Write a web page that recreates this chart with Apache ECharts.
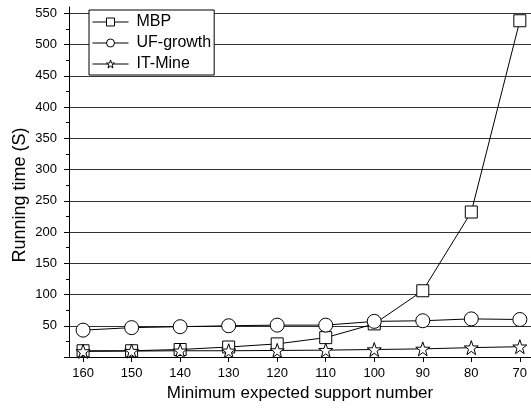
<!DOCTYPE html>
<html><head><meta charset="utf-8">
<script src="https://cdn.jsdelivr.net/npm/echarts@6/dist/echarts.min.js"></script>
<style>html,body{margin:0;padding:0;background:#fff}#c{width:531px;height:409px}</style>
</head><body><div id="c"></div>
<script>
const supports = [160, 150, 140, 130, 120, 110, 100, 90, 80, 70];
const mbp = [10, 10, 12, 16, 21, 31, 53, 106, 232, 538];
const ufGrowth = [43, 47, 48.5, 50, 51, 51, 57, 58, 61, 60];
const itMine = [9, 9.5, 10, 10, 10.5, 11, 12, 13, 15, 16.5];
const yLabels = [50, 100, 150, 200, 250, 300, 350, 400, 450, 500, 550];
const yTicks = [0, 50, 100, 150, 200, 250, 300, 350, 400, 450, 500, 550];
const yMinorTicks = [25, 75, 125, 175, 225, 275, 325, 375, 425, 475, 525];

const star = 'path://M12,0 L14.9,8.3 23.4,8.3 16.6,13.4 19.1,21.8 12,16.7 4.9,21.8 7.4,13.4 0.6,8.3 9.1,8.3 Z';
const font = 'Liberation Sans, Arial, sans-serif';
function pairs(v){ return supports.map((s,i)=>[s, v[i]]); }
function ser(name, data, symbol, size){
  return {name, type:'line', data:pairs(data), symbol, symbolSize:size,
    lineStyle:{color:'#000', width:1}, itemStyle:{color:'#fff', borderColor:'#000', borderWidth:1},
    emphasis:{disabled:true}, animation:false, z:3};
}
const chart = echarts.init(document.getElementById('c'), null, {renderer:'canvas'});
chart.setOption({
  animation:false,
  textStyle:{fontFamily:font},
  grid:{left:69, right:0, top:7, bottom:52, containLabel:false},
  legend:{orient:'vertical', left:89, top:10, padding:[4,3,3,3], itemGap:5,
    backgroundColor:'#fff', borderColor:'#000', borderWidth:1, borderRadius:0,
    itemWidth:36, itemHeight:10,
    lineStyle:{width:1, color:'#000'},
    itemStyle:{color:'#fff', borderColor:'#000', borderWidth:1},
    textStyle:{fontFamily:font, fontSize:16, lineHeight:16, color:'#000', padding:[0,0,0,3]},
    data:['MBP','UF-growth','IT-Mine']},
  graphic:[{type:'text', x:20, y:195, rotation:Math.PI/2,
    style:{text:'Running time (S)', font:'18px ' + font, fill:'#000', align:'center', verticalAlign:'middle'}}],
  xAxis:{type:'value', inverse:true, min:67.7, max:162.9,
    name:'Minimum expected support number', nameLocation:'middle', nameGap:28,
    nameTextStyle:{fontFamily:font, fontSize:17, color:'#000'},
    axisLine:{show:true, onZero:false, lineStyle:{color:'#000', width:1}},
    axisTick:{show:true, inside:false, length:5, lineStyle:{color:'#000'}, customValues:supports},
    axisLabel:{fontFamily:font, fontSize:13, color:'#000', margin:10, customValues:supports},
    splitLine:{show:false}},
  yAxis:[{type:'value', min:0, max:560,
    axisLine:{show:true, lineStyle:{color:'#000', width:1}},
    axisTick:{show:true, inside:false, length:5, lineStyle:{color:'#000'}, customValues:yTicks},
    axisLabel:{fontFamily:font, fontSize:13, color:'#000', margin:12, customValues:yLabels},
    splitLine:{show:true, lineStyle:{color:'#333', width:1}}},
   {type:'value', min:0, max:560, position:'left',
    axisLine:{show:false},
    axisTick:{show:true, inside:false, length:3, lineStyle:{color:'#000'}, customValues:yMinorTicks},
    axisLabel:{show:false},
    splitLine:{show:false}}],
  series:[
    ser('MBP', mbp, 'rect', 12),
    ser('UF-growth', ufGrowth, 'circle', 14),
    ser('IT-Mine', itMine, star, 14)
  ]
});
</script></body></html>
